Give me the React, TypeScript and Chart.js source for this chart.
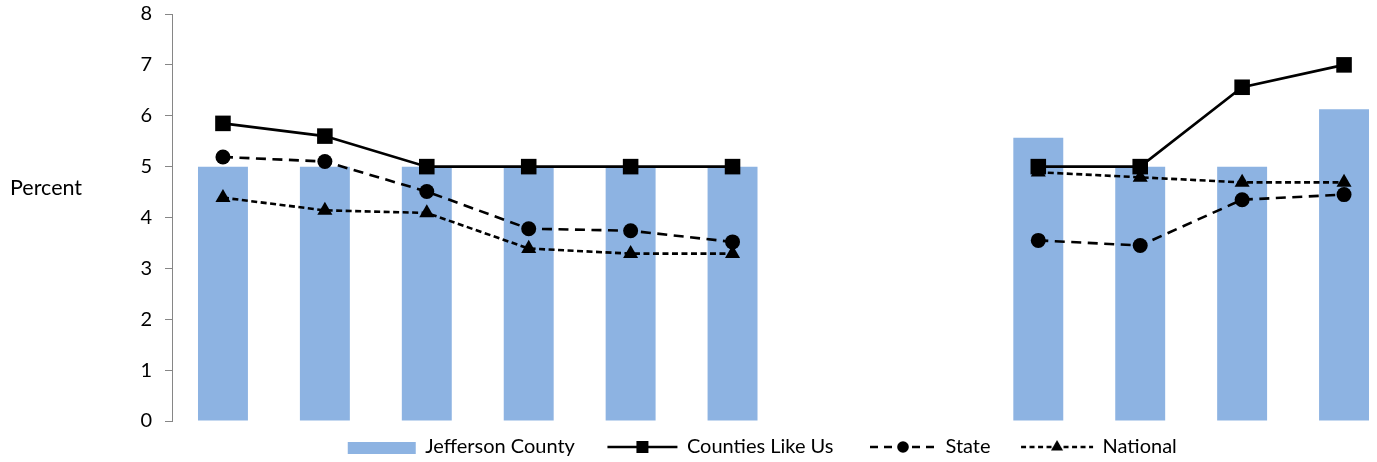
import React, { useEffect, useRef } from 'react';
import { Chart, registerables } from 'chart.js';

Chart.register(...registerables);

// ---- data ----
const categories = ['1', '2', '3', '4', '5', '6', '7', '8', '9', '10', '11', '12'];
const seriesNames = ['Jefferson County', 'Counties Like Us', 'State', 'National'];
const jeffersonCounty = [5, 5, 5, 5, 5, 5, null, null, 5.57, 5, 5, 6.13];
const countiesLikeUs = [5.85, 5.6, 5, 5, 5, 5, null, null, 5, 5, 6.56, 7];
const stateValues = [5.19, 5.1, 4.51, 3.78, 3.74, 3.52, null, null, 3.55, 3.45, 4.35, 4.45];
const nationalValues = [4.39, 4.14, 4.09, 3.39, 3.29, 3.29, null, null, 4.89, 4.79, 4.69, 4.69];
const yMin = 0;
const yMax = 8;
const yStep = 1;
const yAxisLabel = 'Percent';

const FONT = 'Lato';
const FONT_SIZE = 20;
const BAR_COLOR = '#8DB3E2';

function makeLegendImage(kind: string, markW: number, boxW: number): HTMLCanvasElement {
  const extra = 7;
  const W = boxW + extra;
  const H = 22;
  const c = document.createElement('canvas');
  c.width = W;
  c.height = H;
  const ctx = c.getContext('2d') as CanvasRenderingContext2D;
  const right = W - extra / 2 + 0.5;
  const left = right - markW;
  const cy = H / 2;
  const cx = (left + right) / 2;
  ctx.fillStyle = '#000';
  ctx.strokeStyle = '#000';
  if (kind === 'bar') {
    ctx.fillStyle = BAR_COLOR;
    ctx.fillRect(left, cy - 5, markW, 12);
    return c;
  }
  ctx.lineWidth = 2.5;
  if (kind === 'state') ctx.setLineDash([8, 6]);
  if (kind === 'national') ctx.setLineDash([5, 3.5]);
  ctx.beginPath();
  ctx.moveTo(left, cy);
  ctx.lineTo(right, cy);
  ctx.stroke();
  ctx.setLineDash([]);
  if (kind === 'counties') {
    ctx.fillRect(cx - 6, cy - 6, 12, 12);
  } else if (kind === 'state') {
    ctx.beginPath();
    ctx.arc(cx, cy, 5.8, 0, Math.PI * 2);
    ctx.fill();
  } else {
    const r = 7;
    ctx.beginPath();
    ctx.moveTo(cx, cy - r);
    ctx.lineTo(cx + r * 0.866, cy + r / 2);
    ctx.lineTo(cx - r * 0.866, cy + r / 2);
    ctx.closePath();
    ctx.fill();
  }
  return c;
}

export default function App() {
  const canvasRef = useRef<HTMLCanvasElement | null>(null);

  useEffect(() => {
    document.body.style.margin = '0';
    const canvas = canvasRef.current;
    if (!canvas) return;
    const boxW = 102;
    const legendImages = [
      makeLegendImage('bar', 68, boxW),
      makeLegendImage('counties', 70, boxW),
      makeLegendImage('state', 66, boxW),
      makeLegendImage('national', 72, boxW),
    ];

    const percentLabel = {
      id: 'percentLabel',
      afterDraw(chart: any) {
        const ctx = chart.ctx;
        ctx.save();
        ctx.font = `21.5px ${FONT}`;
        ctx.fillStyle = '#000';
        ctx.textAlign = 'left';
        ctx.textBaseline = 'middle';
        ctx.fillText(yAxisLabel, 10, 188);
        ctx.restore();
      },
    };

    const chart = new Chart(canvas, {
      type: 'bar',
      data: {
        labels: categories,
        datasets: [
          {
            type: 'bar',
            label: seriesNames[0],
            data: jeffersonCounty,
            backgroundColor: BAR_COLOR,
            borderWidth: 0,
            barPercentage: 0.49,
            categoryPercentage: 1,
            order: 2,
          },
          {
            type: 'line',
            label: seriesNames[1],
            data: countiesLikeUs,
            borderColor: '#000',
            backgroundColor: '#000',
            borderWidth: 2.6,
            pointStyle: 'rect',
            pointRadius: 11,
            pointBorderWidth: 0,
            pointBackgroundColor: '#000',
            tension: 0,
            order: 1,
          },
          {
            type: 'line',
            label: seriesNames[2],
            data: stateValues,
            borderColor: '#000',
            backgroundColor: '#000',
            borderWidth: 2.6,
            borderDash: [10, 6.5],
            pointStyle: 'circle',
            pointRadius: 7.5,
            pointBorderWidth: 0,
            pointBackgroundColor: '#000',
            tension: 0,
            order: 1,
          },
          {
            type: 'line',
            label: seriesNames[3],
            data: nationalValues,
            borderColor: '#000',
            backgroundColor: '#000',
            borderWidth: 2.6,
            borderDash: [6, 3.5],
            pointStyle: 'triangle',
            pointRadius: 8.7,
            pointBorderWidth: 0,
            pointBackgroundColor: '#000',
            tension: 0,
            order: 1,
          },
        ],
      },
      options: {
        animation: false,
        responsive: true,
        maintainAspectRatio: false,
        layout: { padding: { left: 86, right: 2, top: 14, bottom: 0 } },
        plugins: {
          tooltip: { enabled: false },
          legend: {
            position: 'bottom',
            labels: {
              usePointStyle: true,
              pointStyleWidth: boxW,
              padding: 0,
              color: '#000',
              font: { family: FONT, size: FONT_SIZE },
              generateLabels: (ch: any) => {
                const items = (Chart.defaults.plugins.legend.labels as any).generateLabels(ch);
                return items
                  .map((it: any) => ({ ...it, pointStyle: legendImages[it.datasetIndex], rotation: 0 }))
                  .sort((a: any, b: any) => a.datasetIndex - b.datasetIndex);
              },
            },
          },
        },
        scales: {
          x: {
            display: true,
            ticks: { display: false },
            grid: { display: false },
            border: { display: false },
            afterFit: (s: any) => {
              s.height = 16;
              s.paddingLeft = 0;
              s.paddingRight = 0;
            },
          },
          y: {
            min: yMin,
            max: yMax,
            ticks: {
              stepSize: yStep,
              color: '#000',
              padding: 13,
              font: { family: FONT, size: FONT_SIZE },
            },
            grid: {
              display: true,
              drawOnChartArea: false,
              drawTicks: true,
              tickLength: 7,
              color: '#868686',
            },
            border: { display: true, color: '#868686', width: 1 },
            afterFit: (s: any) => {
              s.width = 86;
              s.paddingTop = 0;
              s.paddingBottom = 0;
            },
          },
        },
      },
      plugins: [percentLabel],
    } as any);

    return () => {
      chart.destroy();
    };
  }, []);

  return (
    <div style={{ width: 1377, height: 462, overflow: 'hidden', position: 'relative' }}>
      <div style={{ width: 1406, height: 467, position: 'absolute', left: 0, top: 0 }}>
        <canvas ref={canvasRef} />
      </div>
    </div>
  );
}
